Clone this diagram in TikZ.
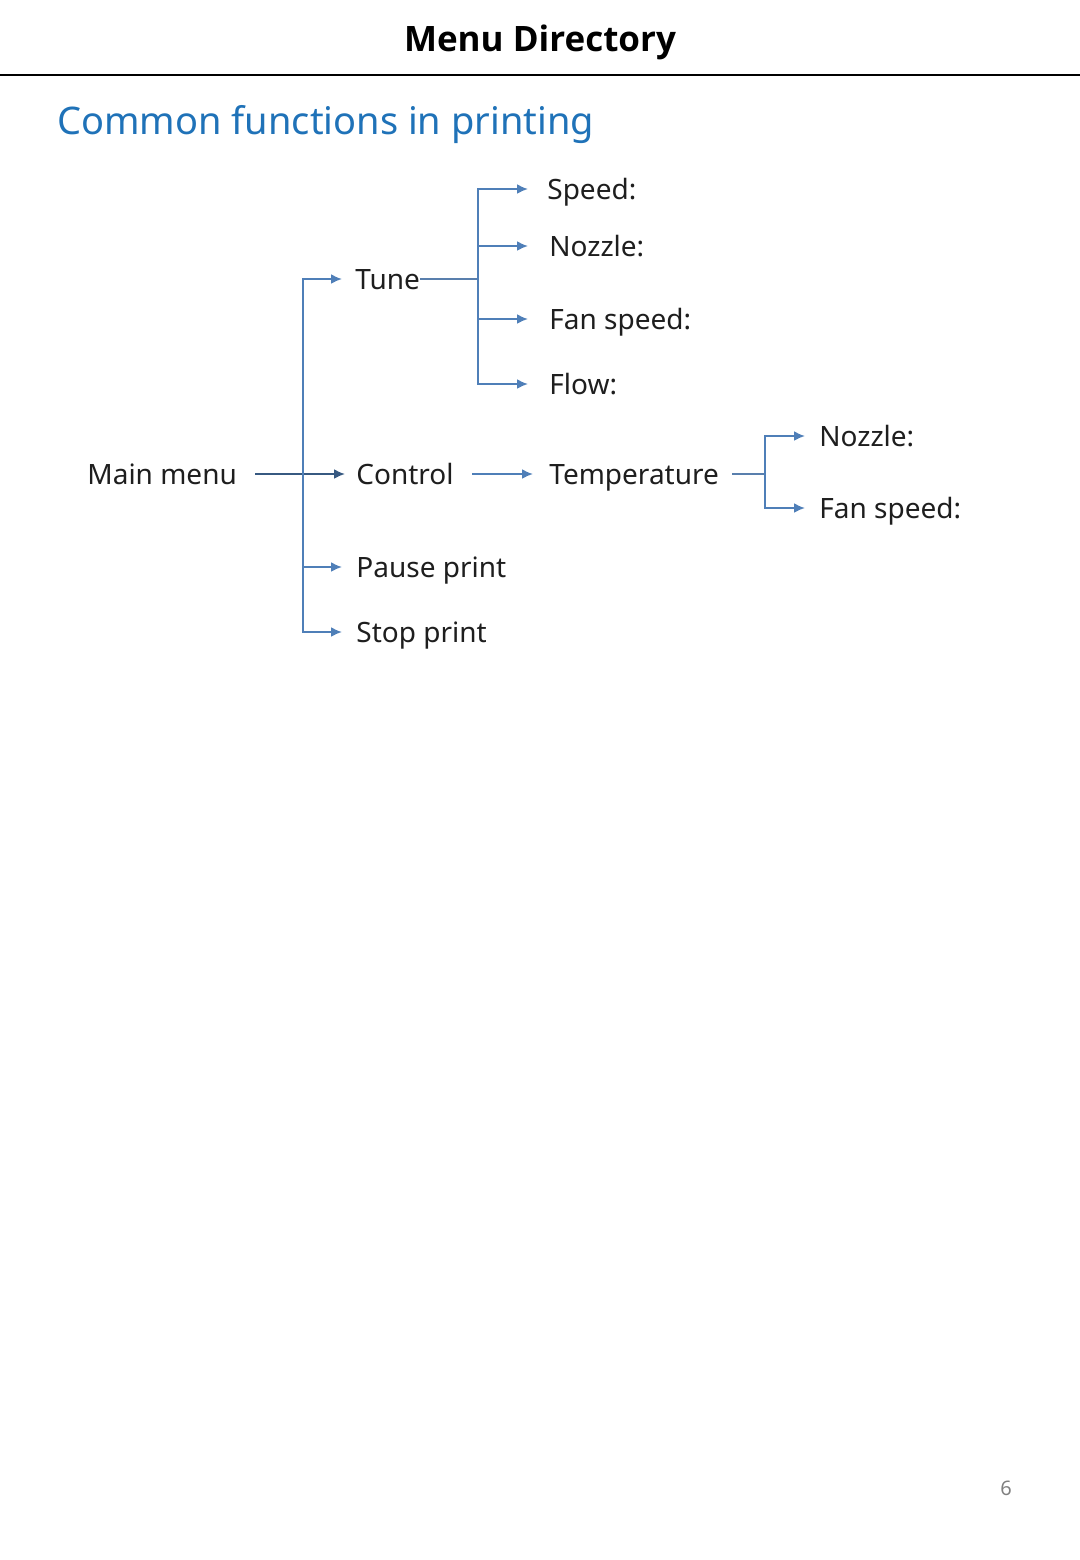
\documentclass[tikz,border=0pt]{standalone}
\usepackage{fontspec}
\setmainfont{Noto Sans}
\newfontfamily\headfont{Open Sans}
\usetikzlibrary{arrows.meta, positioning}
\definecolor{linkblue}{HTML}{4F7FB8}
\definecolor{headblue}{HTML}{1F72B8}
\definecolor{inkgray}{HTML}{1E1E1E}

\begin{document}
\begin{tikzpicture}[
  x=0.5pt, y=-0.5pt,
  item/.style={anchor=west, inner sep=0pt, text height=10pt, text depth=0pt,
    font=\fontsize{14}{16}\selectfont, text=inkgray},
  arrow/.style={-{Latex[length=5.5pt, width=5pt]}, line width=1pt, draw=linkblue},
  link/.style={line width=0.7pt, draw=linkblue!80!gray}
]
\useasboundingbox (0,0) rectangle (1080,1560);

% page header
\node (header) [font=\headfont\fontsize{17.5}{20}\selectfont\bfseries, text=black,
  text height=13pt, text depth=0pt, inner sep=0pt] at (540,38) {Menu Directory};
\draw [line width=1pt] (0,75) -- (1080,75);
\node (section) [anchor=west, inner sep=0pt, text height=13.5pt, text depth=0pt,
  font=\fontsize{19}{22}\selectfont, text=headblue] at (57,121) {Common functions in printing};

% menu tree
\node (main) [item] at (87,474) {Main menu};
\node (tune) [item] at (355,279) {Tune};
\node (ctrl) [item] at (356,474) {Control};
\node (pause) [item] at (356,567) {Pause print};
\node (stop) [item] at (356,632) {Stop print};

\node (speed) [item] at (547,189) {Speed:};
\node (nozzle) [item] at (549,246) {Nozzle:};
\node (fan) [item] at (549,319) {Fan speed:};
\node (flow) [item] at (549,384) {Flow:};

\node (temp) [item] at (549,474) {Temperature};
\node (tnozzle) [item] at (819,436) {Nozzle:};
\node (tfan) [item] at (819,508) {Fan speed:};

\coordinate (trunk) at (303,474);
\coordinate (tunej) at (478,279);
\coordinate (tempj) at (765,474);

\draw [arrow, draw=linkblue!70!black, shorten <=9pt, shorten >=5.5pt] (main) -- (ctrl);
\draw [arrow, shorten >=6.5pt] (trunk) |- (tune);
\draw [arrow, shorten >=7pt] (trunk) |- (pause);
\draw [arrow, shorten >=7pt] (trunk) |- (stop);

\draw [link] (tune) -- (tunej);
\draw [arrow, shorten >=9.5pt] (tunej) |- (speed);
\draw [arrow, shorten >=10.5pt] (tunej) |- (nozzle);
\draw [arrow, shorten >=10.5pt] (tunej) |- (fan);
\draw [arrow, shorten >=10.5pt] (tunej) |- (flow);

\draw [arrow, shorten <=9pt, shorten >=8pt] (ctrl) -- (temp);
\draw [link, shorten <=6.5pt] (temp) -- (tempj);
\draw [arrow, shorten >=7pt] (tempj) |- (tnozzle);
\draw [arrow, shorten >=7pt] (tempj) |- (tfan);

\node (pagenum) [font=\fontsize{10}{12}\selectfont, text=gray] at (1006,1488) {6};

\end{tikzpicture}
\end{document}
